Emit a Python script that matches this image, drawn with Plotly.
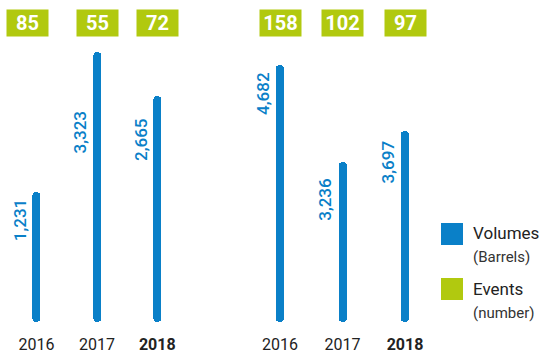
import plotly.graph_objects as go

# Oil spill statistics: two sites, three years each
years = ["2016", "2017", "2018"]
year_ticks = ["2016", "2017", "<b>2018</b>"]
volumes_a = [1231, 3323, 2665]
volumes_b = [4682, 3236, 3697]
events_a = [85, 55, 72]
events_b = [158, 102, 97]

BLUE = "#0a80c8"
GREEN = "#b1c90f"
DARK = "#222222"
FONT = "Roboto"

W, H = 541, 354
PLOT_H = 322  # height of the plotting band above the year labels

# Axis ranges (truncated value axes, common pixel scale)
range_a = [-713, 4093]
range_b = [852, 5658]

# Per-label vertical offsets (px) below the bar top
label_drop_a = [6, 58, 21]
label_drop_b = [5, 15, 8]
box_xshift_a = [-9, 1, 0]
box_xshift_b = [0, 0, 0]

fig = go.Figure()

for vals, rng, xa, ya in [(volumes_a, range_a, "x", "y"), (volumes_b, range_b, "x2", "y2")]:
    fig.add_trace(go.Bar(
        x=years, y=[v - rng[0] for v in vals], base=rng[0],
        xaxis=xa, yaxis=ya,
        marker=dict(color=BLUE, cornerradius=4, line=dict(width=0)),
        width=0.13, showlegend=False, hoverinfo="skip",
    ))

annotations = []
for vals, drops, xa, ya in [(volumes_a, label_drop_a, "x", "y"), (volumes_b, label_drop_b, "x2", "y2")]:
    for i, (v, d) in enumerate(zip(vals, drops)):
        annotations.append(dict(
            x=i, y=v, xref=xa, yref=ya, text=f"{v:,}", textangle=-90,
            showarrow=False, xanchor="center", yanchor="top",
            xshift=-17, yshift=-d,
            font=dict(family=FONT, size=17, color=BLUE, weight=500),
        ))

box_y = 1 - 23 / PLOT_H
for evs, shifts, xa in [(events_a, box_xshift_a, "x"), (events_b, box_xshift_b, "x2")]:
    for i, (e, s) in enumerate(zip(evs, shifts)):
        annotations.append(dict(
            x=i, y=box_y, xref=xa, yref="paper", text=f"<b>{e}</b>",
            showarrow=False, xanchor="center", yanchor="middle", xshift=s,
            width=41, height=26, bgcolor=GREEN, borderpad=0,
            font=dict(family=FONT, size=20, color="white"),
        ))

# Legend
def px_x(p):
    return p / W

def px_y(p):
    return 1 - p / PLOT_H

shapes = [
    dict(type="rect", xref="paper", yref="paper", x0=px_x(441), x1=px_x(463),
         y0=px_y(245), y1=px_y(223), fillcolor=BLUE, line=dict(width=0)),
    dict(type="rect", xref="paper", yref="paper", x0=px_x(441), x1=px_x(463),
         y0=px_y(300), y1=px_y(278), fillcolor=GREEN, line=dict(width=0)),
]
for txt, yc, size, col in [("Volumes", 233, 17, DARK), ("(Barrels)", 257, 15, "#333333"),
                           ("Events", 289, 17, DARK), ("(number)", 313, 15, "#333333")]:
    annotations.append(dict(
        x=px_x(471), y=px_y(yc), xref="paper", yref="paper", text=txt,
        showarrow=False, xanchor="left", yanchor="middle",
        font=dict(family=FONT, size=size, color=col),
    ))

axis_x = dict(type="category", range=[-0.5, 2.5], showgrid=False, zeroline=False,
              showline=False, tickmode="array", tickvals=years, ticktext=year_ticks,
              ticks="outside", ticklen=8, tickcolor="rgba(0,0,0,0)",
              tickfont=dict(family=FONT, size=16, color=DARK), fixedrange=True)
axis_y = dict(showgrid=False, zeroline=False, showline=False, showticklabels=False,
              fixedrange=True)

fig.update_layout(
    width=W, height=H,
    margin=dict(l=0, r=0, t=0, b=H - PLOT_H),
    paper_bgcolor="white", plot_bgcolor="white",
    xaxis=dict(axis_x, domain=[6.3 / W, 187.5 / W], anchor="y"),
    xaxis2=dict(axis_x, domain=[248.75 / W, 436.25 / W], anchor="y2"),
    yaxis=dict(axis_y, range=range_a, anchor="x"),
    yaxis2=dict(axis_y, range=range_b, anchor="x2"),
    annotations=annotations, shapes=shapes,
    bargap=0,
)

fig.write_html("out.html")
